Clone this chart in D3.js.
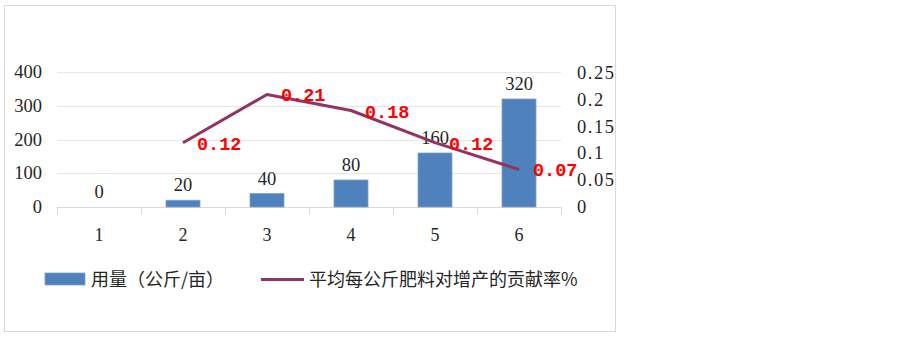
<!DOCTYPE html>
<html><head><meta charset="utf-8">
<script src="https://cdn.jsdelivr.net/npm/d3@7"></script>
<style>html,body{margin:0;padding:0;background:#fff;}svg{display:block;}</style>
</head><body>
<svg id="chart" width="900" height="337"></svg>
<script>
const categories = ["1","2","3","4","5","6"];
const usage = [0, 20, 40, 80, 160, 320];
const contribution = [null, 0.12, 0.21, 0.18, 0.12, 0.07];
const leftTicks = [0, 100, 200, 300, 400];
const rightTicks = [0, 0.05, 0.1, 0.15, 0.2, 0.25];
const seriesNames = ["用量（公斤/亩）", "平均每公斤肥料对增产的贡献率%"];

const svg = d3.select("#chart");
const serif = "'Liberation Serif','DejaVu Serif',serif";
const cjk = "'Noto Sans CJK SC','Noto Sans',sans-serif";
const barColor = "#4F81BD", lineColor = "#943263";

// frame
svg.append("rect").attr("x",4.5).attr("y",5.5).attr("width",611).attr("height",326)
  .attr("fill","#fff").attr("stroke","#D9D9D9");

const xb = d3.scaleBand().domain(categories).range([57,561]);
const yL = d3.scaleLinear().domain([0,400]).range([207,72]);
const yR = d3.scaleLinear().domain([0,0.25]).range([207,73]);

// gridlines
svg.append("g").selectAll("line").data(leftTicks.slice(1)).join("line")
  .attr("x1",57).attr("x2",561).attr("y1",d=>Math.round(yL(d))+0.5).attr("y2",d=>Math.round(yL(d))+0.5)
  .attr("stroke","#E6E6E6");

// x axis
const xAxis = svg.append("g").attr("transform",`translate(0,${Math.round(yL(0))+0.5})`);
xAxis.append("line").attr("x1",57).attr("x2",561).attr("stroke","#D9D9D9");
const bounds = categories.map(c=>xb(c)).concat([561]);
xAxis.selectAll("line.t").data(bounds).join("line").attr("class","t")
  .attr("x1",d=>Math.round(d)+0.5).attr("x2",d=>Math.round(d)+0.5).attr("y1",0).attr("y2",7).attr("stroke","#D9D9D9");
xAxis.selectAll("text").data(categories).join("text")
  .attr("x",d=>xb(d)+xb.bandwidth()/2).attr("y",33).attr("text-anchor","middle")
  .attr("font-family",serif).attr("font-size",18).attr("fill","#262626").text(d=>d);

// left axis labels
svg.append("g").selectAll("text").data(leftTicks).join("text")
  .attr("x",42).attr("y",d=>yL(d)+6).attr("text-anchor","end")
  .attr("font-family",serif).attr("font-size",18.5).attr("fill","#262626").text(d=>d);

// right axis labels
svg.append("g").selectAll("text").data(rightTicks).join("text")
  .attr("x",577).attr("y",d=>yR(d)+6).attr("text-anchor","start")
  .attr("font-family",serif).attr("font-size",18.5).attr("letter-spacing",1.5).attr("fill","#262626").text(d=>String(d));

// bars
const bw = 34;
svg.append("g").selectAll("rect").data(usage).join("rect")
  .attr("x",(d,i)=>xb(categories[i])+xb.bandwidth()/2-bw/2)
  .attr("y",d=>yL(d)).attr("width",bw).attr("height",d=>yL(0)-yL(d))
  .attr("fill",barColor).attr("stroke","#7FA2CE").attr("stroke-width",0.8);

// bar labels
svg.append("g").selectAll("text").data(usage).join("text")
  .attr("x",(d,i)=>xb(categories[i])+xb.bandwidth()/2).attr("y",d=>yL(d)-9)
  .attr("text-anchor","middle").attr("font-family",serif).attr("font-size",18.5).attr("fill","#262626").text(d=>d);

// line
const pts = contribution.map((v,i)=>({v,c:categories[i]})).filter(d=>d.v!==null);
const line = d3.line().x(d=>xb(d.c)+xb.bandwidth()/2).y(d=>yR(d.v));
svg.append("path").datum(pts).attr("d",line).attr("fill","none")
  .attr("stroke",lineColor).attr("stroke-width",3).attr("stroke-linejoin","round");

// line labels
svg.append("g").selectAll("text").data(pts).join("text")
  .attr("x",d=>xb(d.c)+xb.bandwidth()/2+14).attr("y",d=>yR(d.v)+7)
  .attr("font-family","'Liberation Mono','DejaVu Sans Mono',monospace").attr("font-weight","bold")
  .attr("font-size",18.5).attr("fill","#FF0000").text(d=>d.v.toFixed(2));

// legend
const lg = svg.append("g");
lg.append("rect").attr("x",45).attr("y",273).attr("width",40).attr("height",12).attr("fill",barColor).attr("stroke","#7FA2CE").attr("stroke-width",0.8);
lg.append("text").attr("x",91).attr("y",286).attr("font-family",cjk).attr("font-size",18).attr("fill","#262626").text(seriesNames[0]);
lg.append("line").attr("x1",261).attr("x2",304).attr("y1",279.5).attr("y2",279.5).attr("stroke",lineColor).attr("stroke-width",3);
lg.append("text").attr("x",309).attr("y",286).attr("font-family",cjk).attr("font-size",18).attr("fill","#262626").text(seriesNames[1]);
</script>
</body></html>
